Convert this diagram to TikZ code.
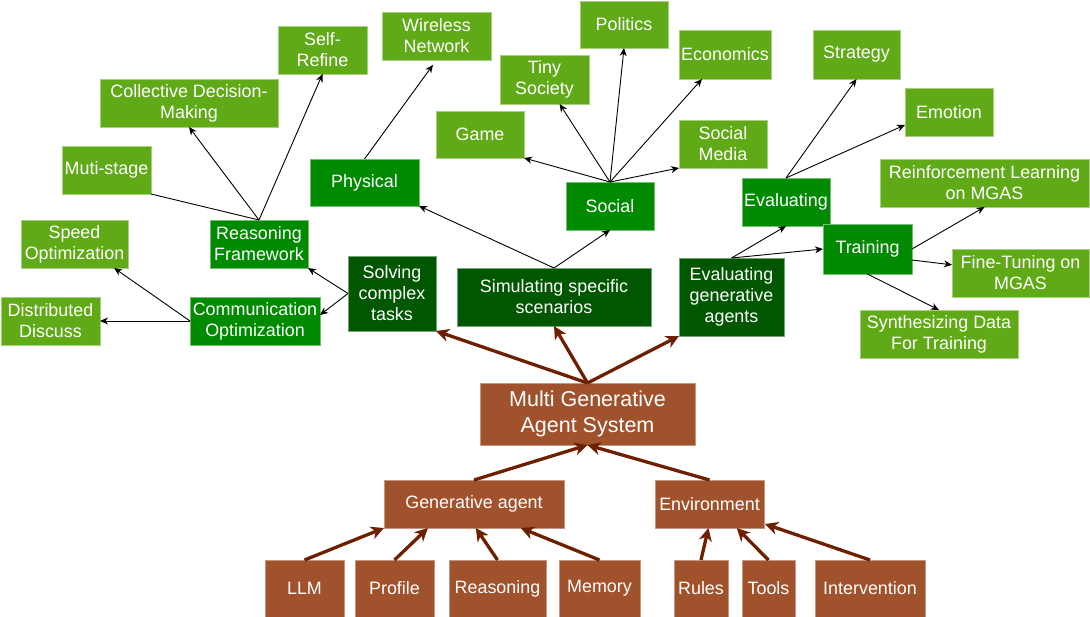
\documentclass[tikz,border=0pt]{standalone}
\usepackage{fontspec}
\setmainfont{Liberation Sans}
\usetikzlibrary{arrows.meta,calc}
\definecolor{lgreen}{HTML}{60A917}
\definecolor{mgreen}{HTML}{008A00}
\definecolor{dgreen}{HTML}{005700}
\definecolor{sienna}{HTML}{A0522D}
\definecolor{arrbrown}{HTML}{6D1F00}
\newcommand\mybox[7]{\node[#1,minimum width={(#5)-(#3)},minimum height={(#6)-(#4)}] (#2) at ({((#3)+(#5))/2},{((#4)+(#6))/2}) {#7};}
\begin{document}
\begin{tikzpicture}[x=1pt,y=-1pt,
  box/.style={inner sep=0pt,outer sep=0pt,text=white,align=center,line width=0.8pt,
    font=\fontsize{17.9}{21}\selectfont},
  lbox/.style={box,fill=lgreen,draw=lgreen!55!white},
  mbox/.style={box,fill=mgreen,draw=mgreen!55!white},
  dbox/.style={box,fill=dgreen,draw=dgreen!55!white},
  bbox/.style={box,fill=sienna,draw=sienna!60!white},
  bigbox/.style={bbox,font=\fontsize{21.5}{26.5}\selectfont},
  barr/.style={draw=arrbrown,line width=3.3pt,-{Stealth[length=13pt,width=13pt,inset=4pt]}},
  karr/.style={draw=black,line width=0.9pt,-{Stealth[length=8pt,width=7pt,inset=2.5pt]}},
  kline/.style={draw=black,line width=0.9pt}]
\useasboundingbox (0,0) rectangle (1090,616);
% light green leaves
\mybox{lbox}{sr}{278}{26}{367}{74}{Self-\\Refine}
\mybox{lbox}{wire}{382}{12}{491}{60}{Wireless\\Network}
\mybox{lbox}{pol}{580}{1}{668}{48}{Politics}
\mybox{lbox}{econ}{679}{30}{771}{79}{Economics}
\mybox{lbox}{strat}{813}{30}{900}{79}{Strategy}
\mybox{lbox}{coll}{100}{79}{278}{127}{Collective Decision-\\Making}
\mybox{lbox}{tiny}{500}{55}{589}{104}{Tiny\\Society}
\mybox{lbox}{emo}{905}{88}{993}{136}{Emotion}
\mybox{lbox}{muti}{62}{146}{151}{194}{Muti-stage}
\mybox{lbox}{game}{436}{111}{524}{158}{Game}
\mybox{lbox}{smed}{679}{120}{767}{168}{Social\\Media}
\mybox{lbox}{rl}{880}{159}{1089}{207}{Reinforcement Learning\\on MGAS}
\mybox{lbox}{speed}{21}{220}{128}{268}{Speed\\Optimization}
\mybox{lbox}{ft}{952}{249}{1089}{297}{Fine-Tuning on\\MGAS}
\mybox{lbox}{dist}{1}{297}{100}{345}{Distributed\\Discuss}
\mybox{lbox}{synth}{860}{310}{1018}{358}{Synthesizing Data\\For Training}
% medium green
\mybox{mbox}{phys}{310}{159}{419}{206}{Physical}
\mybox{mbox}{soc}{566}{182}{654}{230}{Social}
\mybox{mbox}{eval}{742}{178}{830}{226}{Evaluating}
\mybox{mbox}{rf}{210}{220}{308}{268}{Reasoning\\Framework}
\mybox{mbox}{comm}{190}{297}{320}{345}{Communication\\Optimization}
% dark green
\mybox{dbox}{solv}{348}{256}{436}{331}{Solving\\complex\\tasks}
\mybox{dbox}{sim}{457}{268}{651}{326}{Simulating specific\\scenarios}
\mybox{dbox}{ega}{679}{258}{784}{336}{Evaluating\\generative\\agents}
% training over evaluating
\mybox{mbox}{train}{823}{224}{912}{274}{Training}
% brown
\mybox{bigbox}{mgas}{480}{383}{695}{445}{Multi Generative\\Agent System}
\mybox{bbox}{ga}{384}{480}{564}{528}{Generative agent}
\mybox{bbox}{env}{655}{480}{764}{528}{Environment}
\mybox{bbox}{llm}{265}{560}{344}{617}{LLM}
\mybox{bbox}{prof}{355}{560}{434}{617}{Profile}
\mybox{bbox}{reas}{449}{560}{546}{617}{Reasoning}
\mybox{bbox}{mem}{559}{560}{640}{617}{Memory}
\mybox{bbox}{rules}{674}{560}{728}{617}{Rules}
\mybox{bbox}{tools}{742}{560}{795}{617}{Tools}
\mybox{bbox}{interv}{815}{560}{925}{617}{Intervention}
% brown arrows
\draw[barr] (llm.north) -- (ga.south west);
\draw[barr] (prof.north) -- ($(ga.south west)!0.244!(ga.south east)$);
\draw[barr] (reas.north) -- ($(ga.south west)!0.51!(ga.south east)$);
\draw[barr] (mem.north) -- ($(ga.south west)!0.76!(ga.south east)$);
\draw[barr] (rules.north) -- ($(env.south west)!0.49!(env.south east)$);
\draw[barr] (tools.north) -- ($(env.south west)!0.75!(env.south east)$);
\draw[barr] (interv.north) -- ($(env.south east)+(1,-4)$);
\draw[barr] (ga.north) -- (mgas.south);
\draw[barr] (env.north) -- (mgas.south);
\draw[barr] (mgas.north) -- (solv.south east);
\draw[barr] (mgas.north) -- (sim.south);
\draw[barr] (mgas.north) -- (ega.south west);
% black arrows
\draw[karr] (sim.north) -- (phys.south east);
\draw[karr] (sim.north) -- (soc.south);
\draw[karr] (soc.north) -- (game.south east);
\draw[karr] (soc.north) -- ($(tiny.south west)!0.67!(tiny.south east)$);
\draw[karr] (soc.north) -- (pol.south);
\draw[karr] (soc.north) -- ($(econ.south west)!0.25!(econ.south east)$);
\draw[karr] (soc.north) -- (smed.south west);
\draw[karr,shorten >=6pt] (phys.north) -- (wire.south);
\draw[karr] (rf.north) -- (coll.south);
\draw[karr] (rf.north) -- (sr.south);
\draw[kline] (muti.south east) -- (rf.north);
\draw[karr] (solv.west) -- (rf.south east);
\draw[karr] (solv.west) -- ($(comm.north east)!0.375!(comm.south east)$);
\draw[karr] (comm.west) -- (dist.east);
\draw[karr] (comm.west) -- ($(speed.south west)!0.87!(speed.south east)$);
\draw[karr] (ega.north) -- (eval.south);
\draw[karr] (ega.north) -- (train.west);
\draw[karr] (eval.north) -- (strat.south);
\draw[karr] (eval.north) -- ($(emo.north west)!0.77!(emo.south west)$);
\draw[karr] (train.east) -- (rl.south);
\draw[karr] ($(train.north east)!0.72!(train.south east)$) -- ($(ft.north west)!0.33!(ft.south west)$);
\draw[karr] (train.south) -- (synth.north);
\end{tikzpicture}
\end{document}
